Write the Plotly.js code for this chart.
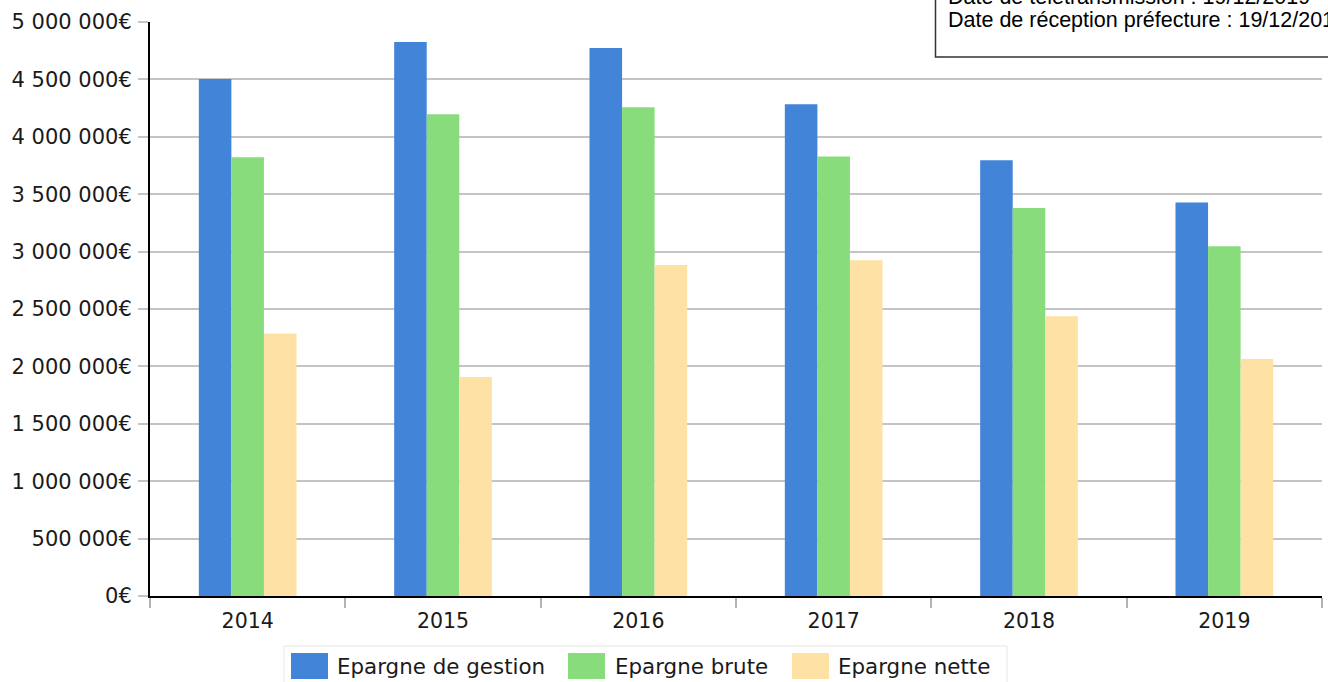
<!DOCTYPE html>
<html>
<head>
<meta charset="utf-8">
<script src="https://cdn.plot.ly/plotly-3.0.1.min.js"></script>
<style>
  html, body { margin: 0; padding: 0; background: #fff; }
  #chart { width: 1328px; height: 682px; }
</style>
</head>
<body>
<div id="chart"></div>
<script>
// ---- data ----
const years = ["2014", "2015", "2016", "2017", "2018", "2019"];
const seriesNames = ["Epargne de gestion", "Epargne brute", "Epargne nette"];
const epargneGestion = [4503000, 4826000, 4774000, 4283000, 3795000, 3427000];
const epargneBrute   = [3821000, 4196000, 4257000, 3828000, 3380000, 3046000];
const epargneNette   = [2286000, 1908000, 2883000, 2924000, 2436000, 2064000];
const headerLines = ["Date de télétransmission : 19/12/2019", "Date de réception préfecture : 19/12/2019"];

// ---- styling ----
const colors = ["#4284d8", "#88dc7c", "#fde1a5"];
const W = 1328, H = 682;
const M = { l: 150, r: 6, t: 22, b: 86 };
const PW = W - M.l - M.r, PH = H - M.t - M.b;
const px2x = p => (p - M.l) / PW;
const py2y = p => (H - M.b - p) / PH;

const values = [epargneGestion, epargneBrute, epargneNette];
const traces = values.map((v, i) => ({
  type: "bar",
  x: years,
  y: v,
  name: seriesNames[i],
  marker: { color: colors[i], line: { width: 0 } },
  hoverinfo: "none"
}));

const shapes = [];
const annotations = [];

// header box (top right)
shapes.push({
  type: "rect", xref: "paper", yref: "paper",
  x0: px2x(935.5), x1: px2x(1340), y0: py2y(57), y1: py2y(-5),
  line: { color: "#333333", width: 1.5 }, fillcolor: "rgba(0,0,0,0)", layer: "above"
});
annotations.push({
  xref: "paper", yref: "paper", x: px2x(946), y: py2y(-3), xanchor: "left", yanchor: "middle",
  text: headerLines[0], showarrow: false,
  font: { family: "Liberation Sans, Arial, sans-serif", size: 21.5, color: "#000" }
});
annotations.push({
  xref: "paper", yref: "paper", x: px2x(946), y: py2y(20), xanchor: "left", yanchor: "middle",
  text: headerLines[1], showarrow: false,
  font: { family: "Liberation Sans, Arial, sans-serif", size: 21.5, color: "#000" }
});

// custom legend
shapes.push({
  type: "rect", xref: "paper", yref: "paper",
  x0: px2x(284), x1: px2x(1007), y0: py2y(686), y1: py2y(646),
  line: { color: "#e6e6e6", width: 1 }, fillcolor: "rgba(0,0,0,0)"
});
const legSq = [291, 568, 792];
const legTx = [337, 615, 838];
seriesNames.forEach((n, i) => {
  shapes.push({
    type: "rect", xref: "paper", yref: "paper",
    x0: px2x(legSq[i]), x1: px2x(legSq[i] + 37), y0: py2y(679), y1: py2y(653),
    line: { width: 0 }, fillcolor: colors[i]
  });
  annotations.push({
    xref: "paper", yref: "paper", x: px2x(legTx[i] - 2), y: py2y(666.5), xanchor: "left", yanchor: "middle",
    text: n, showarrow: false,
    font: { family: "DejaVu Sans, sans-serif", size: 21.4, color: "#1a1a1a" }
  });
});

const layout = {
  width: W, height: H,
  margin: M,
  paper_bgcolor: "#fff", plot_bgcolor: "#fff",
  separators: ", ",
  showlegend: false,
  barmode: "group",
  bargap: 0.5,
  bargroupgap: 0,
  font: { family: "DejaVu Sans, sans-serif", size: 20, color: "#1a1a1a" },
  xaxis: {
    type: "category",
    showline: true, linecolor: "#000", linewidth: 2,
    ticks: "outside", tickson: "boundaries", ticklen: 10, tickcolor: "#b4b4b4", tickwidth: 2,
    ticklabelstandoff: 5,
    showgrid: false, zeroline: false,
    tickfont: { family: "DejaVu Sans, sans-serif", size: 20.5, color: "#1a1a1a" }
  },
  yaxis: {
    range: [0, 5000000],
    dtick: 500000, tick0: 0,
    tickformat: ",d", ticksuffix: "€",
    showline: true, linecolor: "#000", linewidth: 2,
    ticks: "outside", ticklen: 10, tickcolor: "#c4c4c4", tickwidth: 2,
    ticklabelstandoff: 2,
    showgrid: true, gridcolor: "#c4c4c4", gridwidth: 2,
    zeroline: false,
    tickfont: { family: "DejaVu Sans, sans-serif", size: 21, color: "#1a1a1a" }
  },
  shapes: shapes,
  annotations: annotations
};

Plotly.newPlot("chart", traces, layout, { staticPlot: true, displayModeBar: false });
</script>
</body>
</html>
